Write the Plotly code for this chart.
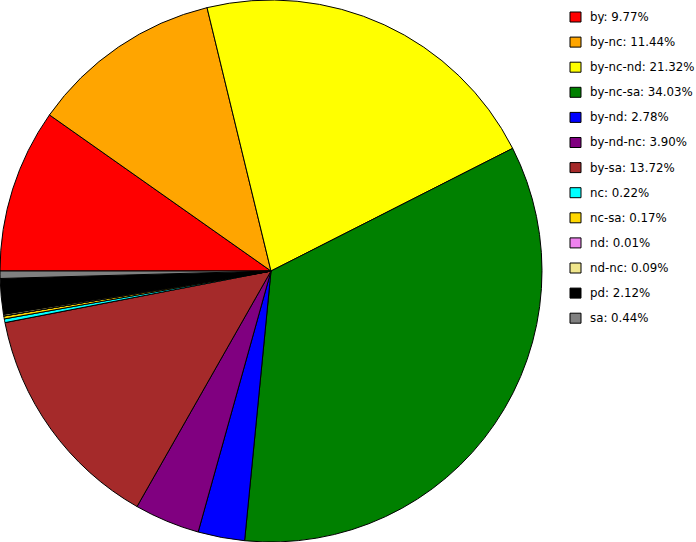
import plotly.graph_objects as go

# licence share data
licences = ["by", "by-nc", "by-nc-nd", "by-nc-sa", "by-nd", "by-nd-nc", "by-sa",
            "nc", "nc-sa", "nd", "nd-nc", "pd", "sa"]
shares = [9.77, 11.44, 21.32, 34.03, 2.78, 3.90, 13.72, 0.22, 0.17, 0.01, 0.09, 2.12, 0.44]
colours = ["#ff0000", "#ffa500", "#ffff00", "#008000", "#0000ff", "#800080", "#a52a2a",
           "#00ffff", "#ffd700", "#ee82ee", "#f0e68c", "#000000", "#808080"]

W, H = 696, 542

pie = go.Pie(
    labels=licences, values=shares, sort=False, direction="clockwise", rotation=270,
    marker=dict(colors=colours, line=dict(color="black", width=1)),
    textinfo="none", hoverinfo="label+percent", showlegend=False,
    domain=dict(x=[0, 542 / W], y=[0, 1]),
)

fig = go.Figure(data=[pie])

# legend drawn by hand so the row spacing matches
shapes = []
annotations = []
for i, (name, val, col) in enumerate(zip(licences, shares, colours)):
    top = 12 + i * 25.1
    shapes.append(dict(type="rect", xref="paper", yref="paper",
                       x0=570 / W, x1=581 / W, y0=1 - (top + 10) / H, y1=1 - top / H,
                       fillcolor=col, line=dict(color="black", width=1)))
    annotations.append(dict(xref="paper", yref="paper", x=588 / W, y=1 - (top + 5) / H,
                            xanchor="left", yanchor="middle", showarrow=False,
                            text="%s: %.2f%%" % (name, val),
                            font=dict(family="DejaVu Sans", size=11.8, color="black")))

fig.update_layout(
    width=W, height=H, margin=dict(l=0, r=0, t=0, b=0),
    paper_bgcolor="white", plot_bgcolor="white",
    shapes=shapes, annotations=annotations,
)

# drop the default body margin so the chart sits at the window corner
fig.write_html("out.html", config={"displayModeBar": False},
               post_script="document.body.style.margin='0';")
